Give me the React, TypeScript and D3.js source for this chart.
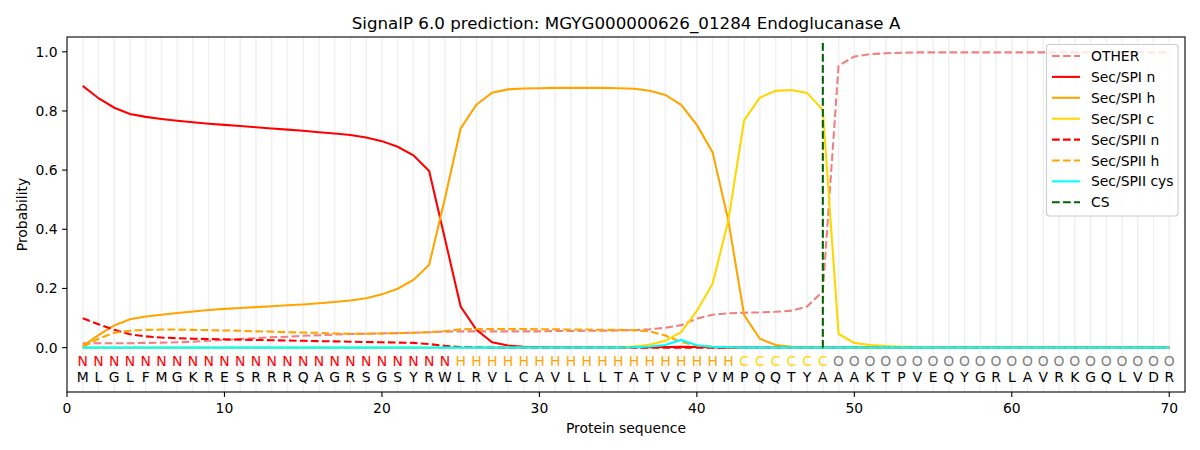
import * as d3 from 'd3'

// residue positions 1..70
const positions = d3.range(1, 71)

const sequence = 'MLGLFMGKRESRRRQAGRSGSYRWLRVLCAVLLLTATVCPVMPQQTYAAAKTPVEQYGRLAVRKGQLVDR'.split('')
const regions = ('N'.repeat(24) + 'H'.repeat(18) + 'C'.repeat(6) + 'O'.repeat(22)).split('')

const other = [
  0.015, 0.015, 0.015, 0.015, 0.016, 0.017, 0.018, 0.020, 0.023, 0.026,
  0.029, 0.032, 0.035, 0.037, 0.040, 0.042, 0.044, 0.046, 0.047, 0.048,
  0.049, 0.050, 0.052, 0.054, 0.055, 0.055, 0.055, 0.055, 0.055, 0.055,
  0.056, 0.056, 0.057, 0.057, 0.058, 0.059, 0.062, 0.067, 0.076, 0.098,
  0.111, 0.116, 0.118, 0.119, 0.121, 0.125, 0.139, 0.190, 0.953, 0.984,
  0.992, 0.995, 0.997, 0.998, 0.998, 0.998, 0.998, 0.998, 0.998, 0.998,
  0.998, 0.998, 0.998, 0.998, 0.998, 0.998, 0.998, 0.998, 0.998, 0.998,
]
const spiN = [
  0.885, 0.843, 0.811, 0.790, 0.780, 0.773, 0.767, 0.762, 0.757, 0.753,
  0.749, 0.745, 0.741, 0.737, 0.733, 0.728, 0.724, 0.719, 0.710, 0.698,
  0.679, 0.650, 0.597, 0.368, 0.139, 0.060, 0.018, 0.007, 0.003, 0.002,
  0.001, 0.001, 0.001, 0.001, 0.001, 0.001, 0.001, 0.002, 0.003, 0.002,
  0.001, 0, 0, 0, 0, 0, 0, 0, 0, 0,
  0, 0, 0, 0, 0, 0, 0, 0, 0, 0,
  0, 0, 0, 0, 0, 0, 0, 0, 0, 0,
]
const spiH = [
  0.005, 0.042, 0.075, 0.096, 0.105, 0.111, 0.117, 0.122, 0.127, 0.131,
  0.134, 0.137, 0.140, 0.143, 0.146, 0.150, 0.154, 0.159, 0.167, 0.180,
  0.199, 0.229, 0.280, 0.504, 0.741, 0.821, 0.862, 0.873, 0.876, 0.877,
  0.878, 0.878, 0.878, 0.878, 0.877, 0.875, 0.868, 0.854, 0.821, 0.753,
  0.660, 0.430, 0.110, 0.030, 0.009, 0.003, 0.001, 0, 0, 0,
  0, 0, 0, 0, 0, 0, 0, 0, 0, 0,
  0, 0, 0, 0, 0, 0, 0, 0, 0, 0,
]
const spiC = [
  0, 0, 0, 0, 0, 0, 0, 0, 0, 0,
  0, 0, 0, 0, 0, 0, 0, 0, 0, 0,
  0, 0, 0, 0, 0, 0, 0, 0, 0, 0,
  0.001, 0.001, 0.001, 0.001, 0.002, 0.004, 0.010, 0.023, 0.052, 0.124,
  0.216, 0.430, 0.768, 0.845, 0.868, 0.871, 0.861, 0.803, 0.046, 0.016,
  0.009, 0.005, 0.003, 0.002, 0.001, 0, 0, 0, 0, 0,
  0, 0, 0, 0, 0, 0, 0, 0, 0, 0,
]
const spiiN = [
  0.099, 0.079, 0.060, 0.045, 0.038, 0.034, 0.032, 0.030, 0.029, 0.028,
  0.027, 0.026, 0.025, 0.024, 0.023, 0.022, 0.021, 0.020, 0.019, 0.018,
  0.017, 0.016, 0.012, 0.006, 0.002, 0.001, 0, 0, 0, 0,
  0, 0, 0, 0, 0, 0, 0, 0, 0, 0,
  0, 0, 0, 0, 0, 0, 0, 0, 0, 0,
  0, 0, 0, 0, 0, 0, 0, 0, 0, 0,
  0, 0, 0, 0, 0, 0, 0, 0, 0, 0,
]
const spiiH = [
  0.002, 0.030, 0.050, 0.057, 0.060, 0.061, 0.061, 0.060, 0.059, 0.058,
  0.057, 0.055, 0.054, 0.052, 0.051, 0.050, 0.048, 0.047, 0.047, 0.048,
  0.049, 0.050, 0.052, 0.056, 0.062, 0.063, 0.063, 0.063, 0.063, 0.062,
  0.062, 0.061, 0.061, 0.060, 0.060, 0.059, 0.055, 0.041, 0.019, 0.007,
  0.003, 0.001, 0, 0, 0, 0, 0, 0, 0, 0,
  0, 0, 0, 0, 0, 0, 0, 0, 0, 0,
  0, 0, 0, 0, 0, 0, 0, 0, 0, 0,
]
const spiiCys = [
  0, 0, 0, 0, 0, 0, 0, 0, 0, 0,
  0, 0, 0, 0, 0, 0, 0, 0, 0, 0,
  0, 0, 0, 0, 0, 0, 0, 0, 0, 0,
  0, 0, 0, 0, 0, 0.001, 0.004, 0.009, 0.026, 0.008,
  0.003, 0.001, 0, 0, 0, 0, 0, 0, 0, 0,
  0, 0, 0, 0, 0, 0, 0, 0, 0, 0,
  0, 0, 0, 0, 0, 0, 0, 0, 0, 0,
]
const cleavageSite = 48

const xTicks = [0, 10, 20, 30, 40, 50, 60, 70]
const yTicks = [0, 0.2, 0.4, 0.6, 0.8, 1.0]

const regionColor: Record<string, string> = { N: '#ff0000', H: '#ffa500', C: '#ffd700', O: '#808080' }

const DASH = '7.7,3.3'
const series = [
  { label: 'OTHER', values: other, color: '#f08080', dash: DASH },
  { label: 'Sec/SPI n', values: spiN, color: '#ff0000', dash: null },
  { label: 'Sec/SPI h', values: spiH, color: '#ffa500', dash: null },
  { label: 'Sec/SPI c', values: spiC, color: '#ffd700', dash: null },
  { label: 'Sec/SPII n', values: spiiN, color: '#ff0000', dash: DASH },
  { label: 'Sec/SPII h', values: spiiH, color: '#ffa500', dash: DASH },
  { label: 'Sec/SPII cys', values: spiiCys, color: '#00ffff', dash: null },
]

export default function App() {
  const width = 1200
  const height = 450
  const margin = { top: 37, right: 15, bottom: 58, left: 67 }
  const font = '"DejaVu Sans", sans-serif'

  const x = d3.scaleLinear().domain([0, 71]).range([margin.left, width - margin.right])
  const y = d3.scaleLinear().domain([-0.15, 1.05]).range([height - margin.bottom, margin.top])

  const line = d3.line<number>()
    .x((_, i) => x(positions[i]))
    .y(d => y(d))

  const legendItems = [...series.map(s => ({ label: s.label, color: s.color, dash: s.dash })),
    { label: 'CS', color: '#006400', dash: DASH }]

  const [x0, x1] = x.range()
  const [y0, y1] = y.range()

  return (
    <svg width={width} height={height} style={{ position: 'absolute', left: 0, top: 0, background: '#fff' }}
      fontFamily={font}>
      {/* per-residue grid */}
      {positions.map(p => (
        <line key={'g' + p} x1={x(p)} x2={x(p)} y1={y1} y2={y0} stroke="#f0f0f0" strokeWidth={1.5} />
      ))}

      {series.map(s => (
        <path key={s.label} d={line(s.values) || ''} fill="none" stroke={s.color} strokeWidth={2.08}
          strokeDasharray={s.dash || undefined} />
      ))}

      <line x1={x(cleavageSite)} x2={x(cleavageSite)} y1={y(0)} y2={y(1.035)}
        stroke="#006400" strokeWidth={2.08} strokeDasharray={DASH} />

      {/* region + residue letters */}
      {positions.map((p, i) => (
        <g key={'t' + p} fontSize={13.9} textAnchor="middle">
          <text x={x(p)} y={366} fill={regionColor[regions[i]]}>{regions[i]}</text>
          <text x={x(p)} y={382} fill="#000">{sequence[i]}</text>
        </g>
      ))}

      {/* axes frame */}
      <rect x={x0} y={y1} width={x1 - x0} height={y0 - y1} fill="none" stroke="#000" strokeWidth={1.1} />

      {xTicks.map(t => (
        <g key={'xt' + t}>
          <line x1={x(t)} x2={x(t)} y1={y0} y2={y0 + 4.9} stroke="#000" strokeWidth={1.1} />
          <text x={x(t)} y={412.5} fontSize={13.9} textAnchor="middle">{t}</text>
        </g>
      ))}
      {yTicks.map(t => (
        <g key={'yt' + t}>
          <line x1={x0 - 4.9} x2={x0} y1={y(t)} y2={y(t)} stroke="#000" strokeWidth={1.1} />
          <text x={57.5} y={y(t) + 5} fontSize={13.9} textAnchor="end">{t.toFixed(1)}</text>
        </g>
      ))}

      <text x={(x0 + x1) / 2} y={433} fontSize={13.9} textAnchor="middle">Protein sequence</text>
      <text transform={`translate(27,${(y0 + y1) / 2}) rotate(-90)`} fontSize={13.9} textAnchor="middle">Probability</text>
      <text x={(x0 + x1) / 2} y={29} fontSize={16.7} textAnchor="middle">
        SignalP 6.0 prediction: MGYG000000626_01284 Endoglucanase A
      </text>

      {/* legend */}
      <g>
        <rect x={1046.5} y={44.5} width={131.5} height={171.5} rx={3} fill="#fff" fillOpacity={0.8}
          stroke="#cccccc" strokeWidth={1.1} />
        {legendItems.map((d, i) => {
          const cy = 56 + i * 20.9
          return (
            <g key={'l' + d.label}>
              <line x1={1052} x2={1080} y1={cy} y2={cy} stroke={d.color} strokeWidth={2.08}
                strokeDasharray={d.dash || undefined} />
              <text x={1091} y={cy + 5} fontSize={13.9}>{d.label}</text>
            </g>
          )
        })}
      </g>
    </svg>
  )
}
